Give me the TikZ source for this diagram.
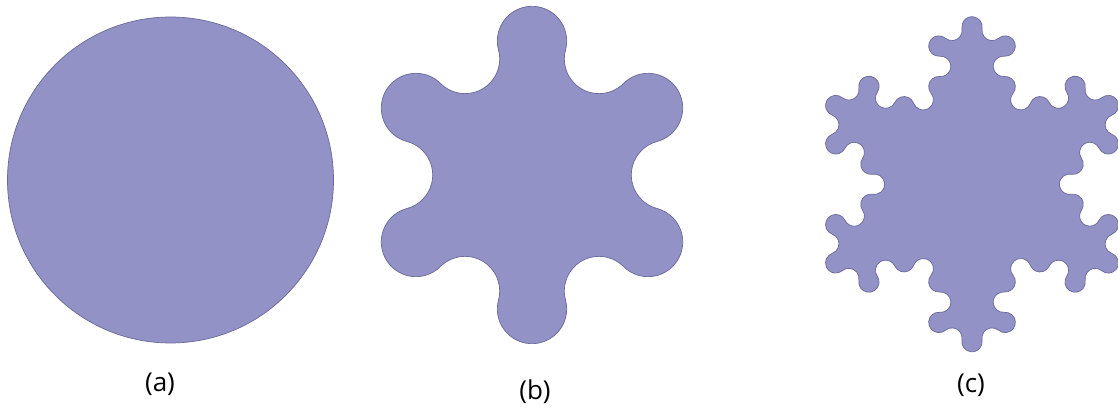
\documentclass[tikz,border=0pt]{standalone}
\usepackage{fontspec}
\setmainfont{Open Sans}
\definecolor{lav}{RGB}{146,146,198}
\definecolor{lavedge}{RGB}{105,105,155}
\begin{document}
\begin{tikzpicture}[x=1pt,y=1pt,
  blob/.style={fill=lav, draw=lavedge, line width=0.7pt, line join=round},
  lbl/.style={font=\fontsize{26}{30}\selectfont, inner sep=0pt, text=black}]
\useasboundingbox[fill=white] (0,0) rectangle (1118,417);
% (a) circle
\path[blob] (170.5,237) circle[radius=163];
% (b) six-lobed flower
\path[blob] (565.50,367.02)
  \foreach \s/\e in {-15/195, 15/-135, 45/255, 75/-75, 105/315, 135/-15,
                     165/375, 195/45, 225/435, 255/105, 285/495, 315/165}
  { arc[start angle=\s, end angle=\e, radius=34.68] } -- cycle;
% (c) smoothed Koch snowflake
\path[blob] (982.04,388.33)
  \foreach \k in {0,...,5} {
    \foreach \s/\e in {-10/190, 10/-130, 50/275, 95/-95, 85/220,
                       40/-160, 20/155, -25/-215, -35/190, 10/-130}
    { arc[start angle={\s+60*\k}, end angle={\e+60*\k}, radius=10.19] }
  } -- cycle;
\node[lbl] (la) at (160,33) {(a)};
\node[lbl] (lb) at (535,25) {(b)};
\node[lbl] (lc) at (971,32) {(c)};
\end{tikzpicture}
\end{document}
